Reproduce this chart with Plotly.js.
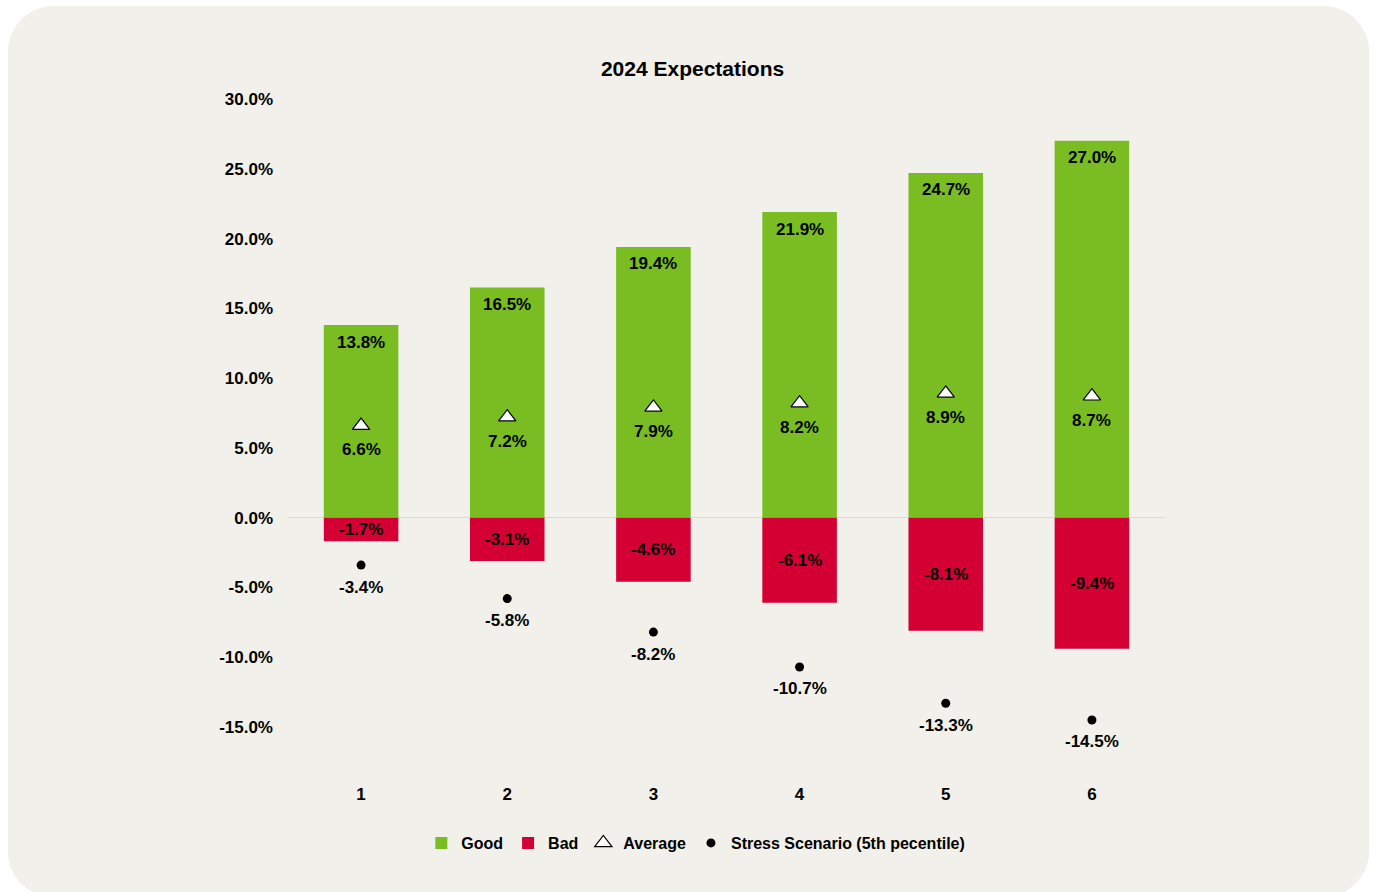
<!DOCTYPE html>
<html>
<head>
<meta charset="utf-8">
<script src="https://cdn.plot.ly/plotly-3.0.1.min.js"></script>
<style>
  html, body { margin: 0; padding: 0; background: #ffffff; }
  #panel {
    position: absolute; left: 8px; top: 6px; width: 1361px; height: 891px;
    border-radius: 46px; overflow: hidden; background: #f1f0ea;
  }
  #chart { width: 1361px; height: 891px; }
</style>
</head>
<body>
<div id="panel"><div id="chart"></div></div>
<script>
const categories = ["1", "2", "3", "4", "5", "6"];
const goodValues = [13.8, 16.5, 19.4, 21.9, 24.7, 27.0];
const badValues = [-1.7, -3.1, -4.6, -6.1, -8.1, -9.4];
const averageValues = [6.6, 7.2, 7.9, 8.2, 8.9, 8.7];
const stressValues = [-3.4, -5.8, -8.2, -10.7, -13.3, -14.5];
const yTickValues = [-15, -10, -5, 0, 5, 10, 15, 20, 25, 30];
const yTickLabels = ["-15.0%", "-10.0%", "-5.0%", "0.0%", "5.0%", "10.0%", "15.0%", "20.0%", "25.0%", "30.0%"];

const FONT = "Liberation Sans, Arial, sans-serif";
const GREEN = "#79bd22";
const RED = "#d40033";
const fmt = v => v.toFixed(1) + "%";

const traces = [
  { type: "bar", name: "Good", x: categories, y: goodValues,
    marker: { color: GREEN }, hoverinfo: "skip" },
  { type: "bar", name: "Bad", x: categories, y: badValues,
    marker: { color: RED }, hoverinfo: "skip" },
  { type: "scatter", mode: "markers", name: "Average", x: categories, y: averageValues,
    marker: { symbol: "triangle-up", size: 15, color: "#ffffff", line: { color: "#000000", width: 1.2 } },
    hoverinfo: "skip" },
  { type: "scatter", mode: "markers", name: "Stress Scenario (5th pecentile)", x: categories, y: stressValues,
    marker: { symbol: "circle", size: 9, color: "#000000" }, hoverinfo: "skip" }
];

const labelFont = { family: FONT, size: 17, color: "#000000", weight: "bold" };
const annotations = [];
categories.forEach((c, i) => {
  annotations.push({ x: i, y: goodValues[i], text: "<b>" + fmt(goodValues[i]) + "</b>", showarrow: false,
    yanchor: "middle", yshift: -17, font: labelFont });
  annotations.push({ x: i, y: badValues[i] / 2, text: "<b>" + fmt(badValues[i]) + "</b>", showarrow: false,
    yanchor: "middle", font: labelFont });
  annotations.push({ x: i, y: averageValues[i], text: "<b>" + fmt(averageValues[i]) + "</b>", showarrow: false,
    yanchor: "middle", yshift: -24, font: labelFont });
  annotations.push({ x: i, y: stressValues[i], text: "<b>" + fmt(stressValues[i]) + "</b>", showarrow: false,
    yanchor: "middle", yshift: -22, font: labelFont });
});

const layout = {
  width: 1361, height: 891,
  paper_bgcolor: "#f1f0ea", plot_bgcolor: "#f1f0ea",
  margin: { l: 280, r: 204, t: 93, b: 117 },
  barmode: "relative",
  bargap: 0.49,
  title: { text: "<b>2024 Expectations</b>", x: 0.503, xref: "container", xanchor: "center",
    y: 0.930, yref: "container", yanchor: "middle",
    font: { family: FONT, size: 21, color: "#000000" } },
  xaxis: { type: "category", range: [-0.5, 5.5], showgrid: false, showline: false, zeroline: false, ticks: "",
    tickfont: { family: FONT, size: 17, color: "#000000", weight: "bold" }, ticklabelstandoff: 2 },
  yaxis: { range: [-18.8, 30], showgrid: false, showline: false, zeroline: true,
    zerolinecolor: "#d9d9d9", zerolinewidth: 1,
    tickvals: yTickValues, ticktext: yTickLabels, ticks: "",
    tickfont: { family: FONT, size: 17, color: "#000000", weight: "bold" }, ticklabelstandoff: 14 },
  showlegend: true,
  legend: { orientation: "h", x: 0.465, xanchor: "center", y: -0.0925, yanchor: "middle",
    font: { family: FONT, size: 16, color: "#000000", weight: "bold" },
    bgcolor: "rgba(0,0,0,0)", itemclick: false, itemdoubleclick: false },
  annotations: annotations
};

Plotly.newPlot("chart", traces, layout, { displayModeBar: false, staticPlot: true });
</script>
</body>
</html>
